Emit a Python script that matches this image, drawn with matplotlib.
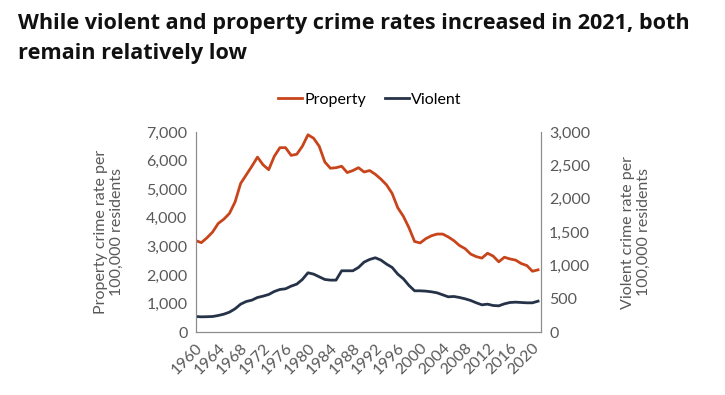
import numpy as np
import matplotlib.pyplot as plt

plt.rcParams['font.family'] = ['Lato', 'DejaVu Sans']

years = list(range(1960, 2022))
property_rate = [3200, 3130, 3300, 3500, 3800, 3950, 4150, 4550, 5200, 5500,
                 5800, 6120, 5850, 5680, 6150, 6450, 6450, 6180, 6220, 6500,
                 6900, 6780, 6500, 5950, 5730, 5750, 5800, 5580, 5650, 5750,
                 5600, 5650, 5520, 5350, 5150, 4850, 4350, 4050, 3650, 3170,
                 3120, 3270, 3370, 3430, 3430, 3330, 3200, 3030, 2920, 2730,
                 2640, 2590, 2760, 2660, 2460, 2620, 2560, 2520, 2400, 2330,
                 2130, 2180]
violent_rate = [235, 230, 232, 235, 250, 270, 300, 350, 420, 460,
                480, 520, 540, 565, 610, 640, 650, 690, 720, 790,
                890, 870, 830, 790, 780, 780, 920, 920, 920, 970,
                1050, 1090, 1115, 1080, 1020, 970, 870, 800, 700, 620,
                620, 615, 605, 590, 560, 530, 535, 520, 500, 475,
                440, 410, 420, 400, 395, 425, 445, 450, 445, 440,
                440, 465]

orange = '#c8451c'
navy = '#263248'
grey = '#595959'
spine_c = '#8c8c8c'

fig = plt.figure(figsize=(7.25, 3.95), dpi=100)
ax = fig.add_axes([0.270, 0.159, 0.476, 0.507])
ax2 = ax.twinx()

l1, = ax.plot(years, property_rate, color=orange, lw=2, label='Property')
l2, = ax2.plot(years, violent_rate, color=navy, lw=2, label='Violent')

ax.set_xlim(1960, 2021.5)
ax.set_ylim(0, 7000)
ax2.set_ylim(0, 3000)
ax.set_yticks(range(0, 7001, 1000))
ax2.set_yticks(range(0, 3001, 500))
ax.yaxis.set_major_formatter(plt.FuncFormatter(lambda v, p: f'{int(v):,}'))
ax2.yaxis.set_major_formatter(plt.FuncFormatter(lambda v, p: f'{int(v):,}'))
ax.set_xticks(range(1960, 2021, 4))
ax.set_xticklabels([str(y) for y in range(1960, 2021, 4)], rotation=45,
                   ha='right', rotation_mode='anchor')

for a in (ax, ax2):
    a.tick_params(length=0, labelsize=11.5, labelcolor=grey, pad=6)
    a.spines['top'].set_visible(False)
    for s in ('left', 'right', 'bottom'):
        a.spines[s].set_color(spine_c)

ax.set_ylabel('Property crime rate per\n100,000 residents', fontsize=11.5,
              color=grey, labelpad=16)
ax2.set_ylabel('Violent crime rate per\n100,000 residents', fontsize=11.5,
               color=grey, labelpad=22, rotation=90)

fig.legend(handles=[l1, l2], loc='center', bbox_to_anchor=(0.51, 0.747),
           ncol=2, frameon=False, fontsize=11.5, handlelength=1.5,
           handletextpad=0.1, columnspacing=1.2)

fig.text(0.025, 0.967, 'While violent and property crime rates increased in 2021, both\nremain relatively low',
         fontsize=15.6, fontweight='bold', va='top', ha='left', color='#111111',
         linespacing=1.55, family=['Open Sans', 'DejaVu Sans'])

fig.savefig('out.png', dpi=100)
